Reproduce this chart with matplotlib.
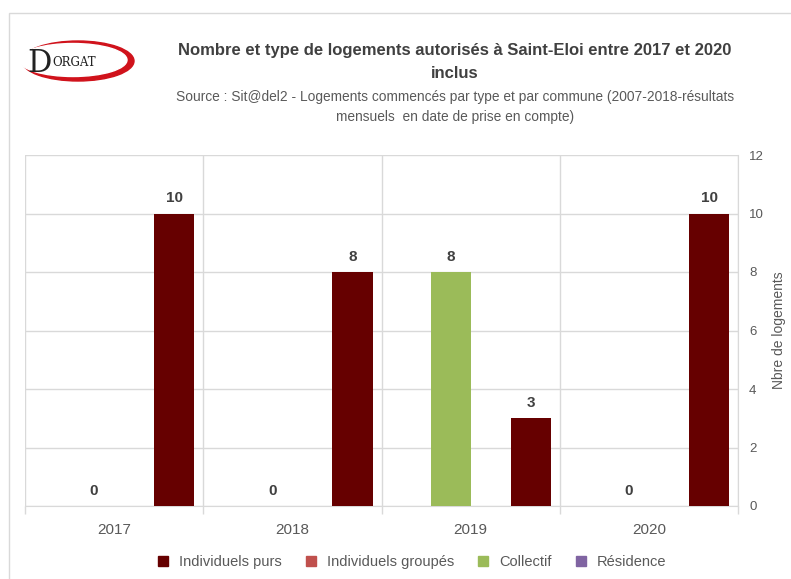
import matplotlib.pyplot as plt
import numpy as np
from matplotlib.patches import Ellipse, Rectangle
from matplotlib.lines import Line2D

plt.rcParams["font.family"] = ["Liberation Sans", "DejaVu Sans"]

years = ["2017", "2018", "2019", "2020"]
series_names = ["Individuels purs", "Individuels groupés", "Collectif", "Résidence"]
indiv_purs = [10, 8, 3, 10]
indiv_groupes = [np.nan, np.nan, np.nan, np.nan]
collectif = [0, 0, 8, 0]
residence = [np.nan, np.nan, np.nan, np.nan]

colors = {
    "Individuels purs": "#660000",
    "Individuels groupés": "#C0504D",
    "Collectif": "#9BBB59",
    "Résidence": "#8064A2",
}
# slot order inside each cluster (Excel order)
slots = [
    ("Individuels groupés", indiv_groupes),
    ("Collectif", collectif),
    ("Résidence", residence),
    ("Individuels purs", indiv_purs),
]

grid_c = "#D9D9D9"
text_c = "#595959"
label_c = "#404040"

fig = plt.figure(figsize=(7.91, 5.79), dpi=100)
ax = fig.add_axes([25 / 791, 1 - 506 / 579, (738 - 25) / 791, (506 - 155) / 579])

x = np.arange(len(years))
w = 0.225
for k, (name, vals) in enumerate(slots):
    pos = x - 0.3375 + k * w
    v = np.array(vals, dtype=float)
    ax.bar(pos, np.nan_to_num(v), width=w, color=colors[name], zorder=3)
    for p, val in zip(pos, v):
        if not np.isnan(val):
            ax.annotate(f"{int(val)}", (p, val), xytext=(0, 6), textcoords="offset points",
                        ha="center", va="bottom", fontsize=11, fontweight="bold", color=label_c)

ax.set_xlim(-0.5, len(years) - 0.5)
ax.set_ylim(0, 12)
ax.set_yticks(range(0, 13, 2))
ax.yaxis.tick_right()
ax.yaxis.set_label_position("right")
ax.set_ylabel("Nbre de logements", color=text_c, fontsize=10, labelpad=6)
ax.tick_params(axis="y", length=0, labelsize=9.5, labelcolor=text_c, pad=8)

ax.set_xticks(x)
ax.set_xticklabels(years, fontsize=11, color=text_c)
ax.set_xticks(np.arange(-0.5, len(years)), minor=True)
ax.tick_params(axis="x", which="major", length=0, pad=12)
ax.tick_params(axis="x", which="minor", length=6, color=grid_c, width=1)

ax.grid(axis="y", color=grid_c, linewidth=1, zorder=0)
for b in np.arange(-0.5, len(years)):
    ax.axvline(b, color=grid_c, linewidth=1, zorder=1)

for s in ["left", "top"]:
    ax.spines[s].set_visible(False)
ax.spines["bottom"].set_color(grid_c)
ax.spines["right"].set_color(grid_c)

handles = [Line2D([], [], marker="s", linestyle="none", markersize=7,
                  markerfacecolor=colors[n], markeredgecolor=colors[n]) for n in series_names]
fig.legend(handles, series_names, loc="center", bbox_to_anchor=(0.515, 1 - 562 / 579),
           ncol=4, frameon=False, fontsize=10.5, labelcolor=text_c,
           handletextpad=0.1, columnspacing=1.0)

fig.text(0.575, 1 - 50 / 579, "Nombre et type de logements autorisés à Saint-Eloi entre 2017 et 2020",
         ha="center", va="center", fontsize=12, fontweight="bold", color=label_c)
fig.text(0.575, 1 - 73 / 579, "inclus", ha="center", va="center",
         fontsize=12, fontweight="bold", color=label_c)
fig.text(0.575, 1 - 97 / 579,
         "Source : Sit@del2 - Logements commencés par type et par commune (2007-2018-résultats",
         ha="center", va="center", fontsize=9.9, color=text_c)
fig.text(0.575, 1 - 117 / 579, "mensuels  en date de prise en compte)",
         ha="center", va="center", fontsize=9.9, color=text_c)

# outer chart border
fig.patches.append(Rectangle((9 / 791, -0.1), 1.2, 1 - 13 / 579 + 0.1, transform=fig.transFigure,
                             fill=False, edgecolor="#D9D9D9", linewidth=1))

# logo
lax = fig.add_axes([18 / 791, 1 - 84 / 579, 122 / 791, 46 / 579])
lax.set_xlim(0, 122)
lax.set_ylim(0, 46)
lax.axis("off")
lax.add_patch(Ellipse((60, 23), 112, 40, color="#D0121B"))
lax.add_patch(Ellipse((55, 24), 108, 33, color="white"))
lax.text(9, 21, "D", fontsize=22, family="DejaVu Serif", color="#222222", va="center")
lax.text(34, 21, "ORGAT", fontsize=8.5, family="DejaVu Serif", color="#222222", va="center")

fig.savefig("out.png", dpi=100)
